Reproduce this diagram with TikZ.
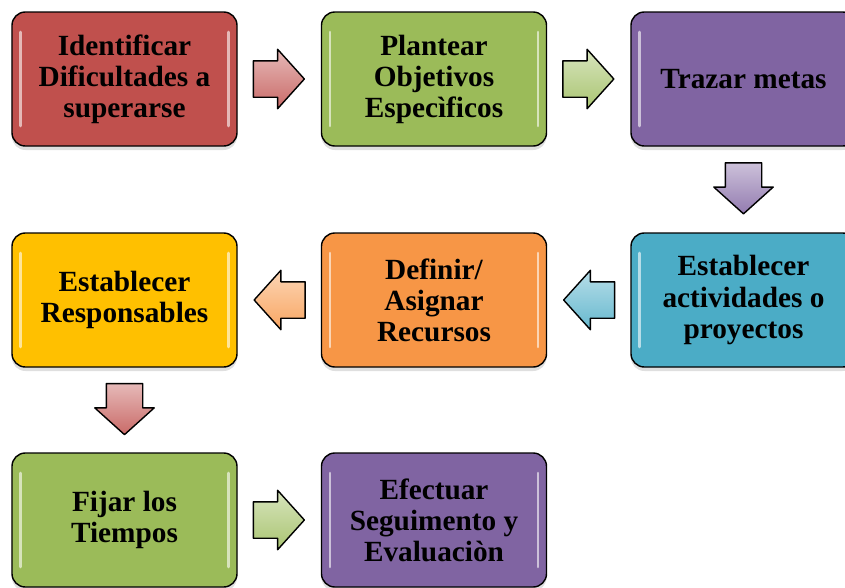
\documentclass[tikz,border=0pt]{standalone}
\usepackage{fontspec}
\setmainfont{Liberation Serif}
\usetikzlibrary{positioning,calc,shapes.arrows,shadows}
\definecolor{rojo}{HTML}{C0504D}
\definecolor{verde}{HTML}{9BBB59}
\definecolor{morado}{HTML}{8064A2}
\definecolor{aqua}{HTML}{4BACC6}
\definecolor{naranja}{HTML}{F79646}
\definecolor{oro}{HTML}{FFC000}
\begin{document}
\begin{tikzpicture}[x=0.3mm,y=-0.3mm,
	etapa/.style={draw=black, line width=1.2pt, rounded corners=4mm, fill=#1,
		minimum width=67.5mm, minimum height=40.2mm, inner sep=0pt, align=center,
		font=\bfseries\fontsize{25}{26.5}\selectfont,
		drop shadow={shadow xshift=0mm, shadow yshift=-1.2mm, opacity=0.25},
		path picture={\draw[white, opacity=0.6, line width=2.2pt, line cap=round]
			([xshift=2.6mm,yshift=-6mm]path picture bounding box.north west) -- ([xshift=2.6mm,yshift=6mm]path picture bounding box.south west)
			([xshift=-2.6mm,yshift=-6mm]path picture bounding box.north east) -- ([xshift=-2.6mm,yshift=6mm]path picture bounding box.south east);}},
	flecha/.style={single arrow, draw=black, line width=1.2pt, line join=round,
		top color=#1!40, bottom color=#1!85, anchor=tail,
		minimum height=15.3mm, minimum width=17.4mm,
		inner xsep=1mm, inner ysep=5.25mm,
		single arrow head extend=3.45mm, single arrow tip angle=96}]
	
	\useasboundingbox (0,0) rectangle (845,587);
	\clip (0,0) rectangle (845,587);
	
	%Fila 1
	\node[etapa=rojo] (identificar) at (124.5,79) {Identificar\\Dificultades a\\superarse};
	\node[etapa=verde] (plantear) at (434,79) {Plantear\\Objetivos\\Especìficos};
	\node[etapa=morado] (trazar) at (743.5,79) {Trazar metas};
	
	%Fila 2
	\node[etapa=oro] (responsables) at (124.5,300) {Establecer\\Responsables};
	\node[etapa=naranja] (recursos) at (434,300) {Definir/\\Asignar\\Recursos};
	\node[etapa=aqua] (actividades) at (743.5,300) {Establecer\\actividades o\\proyectos};
	
	%Fila 3
	\node[etapa=verde] (tiempos) at (124.5,520) {Fijar los\\Tiempos};
	\node[etapa=morado] (seguimiento) at (434,520) {Efectuar\\Seguimento y\\Evaluaciòn};
	
	%Flechas (cola a 0.18 del hueco)
	\node[flecha=rojo] (f1) at ($(identificar.east)!0.18!(plantear.west)$) {};
	\node[flecha=verde] (f2) at ($(plantear.east)!0.18!(trazar.west)$) {};
	\node[flecha=morado, rotate=-90] (f3) at ($(trazar.south)!0.18!(actividades.north)$) {};
	\node[flecha=aqua, rotate=180] (f4) at ($(actividades.west)!0.18!(recursos.east)$) {};
	\node[flecha=naranja, rotate=180] (f5) at ($(recursos.west)!0.18!(responsables.east)$) {};
	\node[flecha=rojo, rotate=-90] (f6) at ($(responsables.south)!0.18!(tiempos.north)$) {};
	\node[flecha=verde] (f7) at ($(tiempos.east)!0.18!(seguimiento.west)$) {};
	
\end{tikzpicture}
\end{document}
